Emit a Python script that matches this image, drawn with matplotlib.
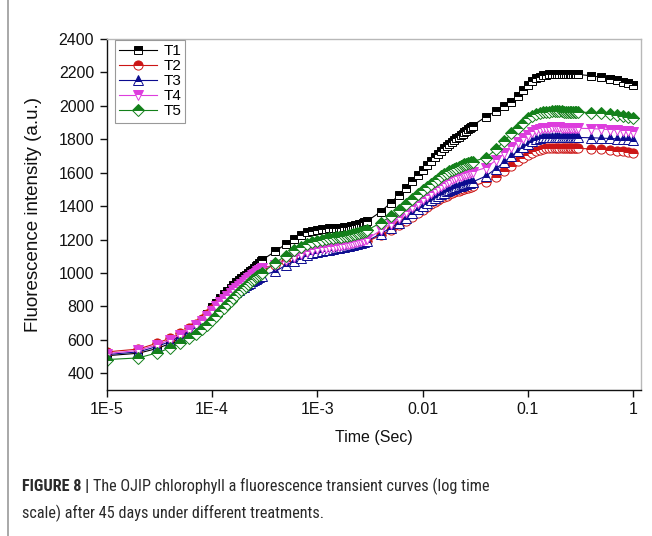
import numpy as np
import matplotlib
matplotlib.use("Agg")
import matplotlib.pyplot as plt
from matplotlib.lines import Line2D
from matplotlib import font_manager

plt.rcParams['font.family'] = ['Liberation Sans', 'DejaVu Sans']

# ---------------- data ----------------
# sampling times in microseconds
TIME_US = [10, 20, 30, 40, 50, 60, 70, 80, 90, 100, 110, 120, 130, 140, 150,
           160, 170, 180, 190, 200, 210, 220, 230, 240, 250, 260, 270, 280, 290, 300,
           400, 500, 600, 700, 800, 900, 1000, 1100, 1200, 1300, 1400, 1500, 1600,
           1700, 1800, 1900, 2000, 2100, 2200, 2300, 2400, 2500, 2600, 2700, 2800,
           2900, 3000,
           4000, 5000, 6000, 7000, 8000, 9000, 10000, 11000, 12000, 13000, 14000,
           15000, 16000, 17000, 18000, 19000, 20000, 21000, 22000, 23000, 24000,
           25000, 26000, 27000, 28000, 29000, 30000,
           40000, 50000, 60000, 70000, 80000, 90000, 100000, 110000, 120000,
           130000, 140000, 150000, 160000, 170000, 180000, 190000, 200000, 210000,
           220000, 230000, 240000, 250000, 260000, 270000, 280000, 290000, 300000,
           400000, 500000, 600000, 700000, 800000, 900000, 1000000]

T1 = [505, 520, 548, 578, 610, 645, 680, 715, 755, 795, 822, 848, 872, 893, 912,
      929, 945, 958, 970, 980, 990, 1000, 1010, 1020, 1030, 1040, 1050, 1059, 1069, 1078,
      1130, 1172, 1205, 1228, 1243, 1252, 1258, 1262, 1265, 1267, 1268, 1270, 1271,
      1272, 1274, 1276, 1278, 1280, 1283, 1286, 1289, 1292, 1296, 1300, 1304, 1308, 1312,
      1366, 1420, 1468, 1510, 1550, 1585, 1618, 1645, 1670, 1692, 1712, 1730, 1746,
      1760, 1773, 1785, 1796, 1806, 1816, 1825, 1834, 1843, 1851, 1859, 1867, 1875, 1882,
      1935, 1968, 1998, 2025, 2060, 2095, 2125, 2150, 2165, 2175, 2182, 2186, 2189,
      2191, 2192, 2193, 2193, 2193, 2192, 2192, 2191, 2191, 2190, 2190, 2189, 2189, 2188,
      2180, 2171, 2162, 2153, 2144, 2134, 2125]

T2 = [528, 545, 580, 610, 640, 670, 697, 723, 753, 783, 810, 832, 852, 870, 886,
      901, 915, 928, 940, 951, 961, 970, 979, 987, 995, 1003, 1010, 1017, 1024, 1030,
      1048, 1072, 1092, 1106, 1116, 1124, 1130, 1135, 1139, 1142, 1145, 1148, 1150,
      1152, 1155, 1157, 1160, 1162, 1165, 1168, 1171, 1174, 1177, 1180, 1183, 1186, 1189,
      1225, 1257, 1287, 1314, 1338, 1359, 1378, 1395, 1410, 1423, 1435, 1446, 1455,
      1463, 1470, 1477, 1483, 1488, 1493, 1497, 1501, 1505, 1508, 1511, 1514, 1517, 1520,
      1545, 1575, 1610, 1640, 1668, 1690, 1707, 1720, 1730, 1737, 1742, 1745, 1747,
      1748, 1749, 1749, 1749, 1749, 1748, 1748, 1748, 1747, 1747, 1746, 1746, 1745, 1745,
      1743, 1740, 1736, 1732, 1728, 1723, 1719]

T3 = [512, 528, 560, 590, 620, 648, 676, 703, 731, 760, 785, 806, 825, 842, 858,
      872, 885, 897, 908, 918, 927, 935, 943, 950, 957, 963, 969, 975, 980, 985,
      1010, 1045, 1072, 1092, 1106, 1117, 1125, 1131, 1136, 1140, 1144, 1147, 1150,
      1153, 1156, 1159, 1162, 1165, 1168, 1171, 1174, 1177, 1180, 1183, 1186, 1189, 1192,
      1235, 1270, 1302, 1332, 1358, 1380, 1400, 1418, 1434, 1448, 1460, 1471, 1480,
      1488, 1495, 1502, 1508, 1513, 1518, 1522, 1526, 1530, 1533, 1536, 1539, 1542, 1545,
      1580, 1625, 1665, 1700, 1730, 1755, 1774, 1789, 1799, 1806, 1811, 1814, 1815,
      1816, 1816, 1816, 1816, 1815, 1815, 1815, 1814, 1814, 1813, 1813, 1812, 1812, 1811,
      1809, 1807, 1805, 1803, 1801, 1799, 1797]

T4 = [518, 537, 570, 600, 630, 660, 688, 715, 745, 775, 802, 825, 845, 864, 880,
      896, 911, 924, 937, 948, 958, 968, 977, 986, 994, 1002, 1009, 1016, 1022, 1028,
      1045, 1075, 1098, 1114, 1126, 1135, 1142, 1147, 1151, 1155, 1158, 1161, 1164,
      1166, 1169, 1171, 1174, 1177, 1180, 1183, 1186, 1189, 1192, 1195, 1198, 1201, 1204,
      1255, 1295, 1330, 1365, 1395, 1420, 1442, 1462, 1480, 1496, 1510, 1522, 1533,
      1543, 1552, 1560, 1567, 1573, 1578, 1583, 1587, 1591, 1594, 1597, 1600, 1603, 1606,
      1630, 1675, 1715, 1752, 1782, 1808, 1828, 1843, 1854, 1861, 1866, 1869, 1870,
      1871, 1871, 1871, 1871, 1870, 1870, 1870, 1869, 1869, 1868, 1868, 1867, 1867, 1866,
      1864, 1861, 1858, 1855, 1852, 1849, 1845]

T5 = [482, 492, 522, 551, 581, 610, 636, 662, 690, 718, 745, 770, 793, 814, 833,
      851, 868, 884, 899, 913, 925, 936, 947, 957, 966, 975, 983, 990, 996, 1000,
      1062, 1102, 1135, 1157, 1172, 1183, 1192, 1198, 1203, 1207, 1210, 1213, 1216,
      1218, 1221, 1224, 1227, 1230, 1233, 1236, 1239, 1242, 1245, 1248, 1251, 1254, 1257,
      1300, 1340, 1375, 1410, 1445, 1472, 1495, 1515, 1533, 1550, 1565, 1578, 1590,
      1600, 1609, 1617, 1624, 1630, 1636, 1641, 1646, 1650, 1654, 1658, 1661, 1664, 1667,
      1690, 1740, 1790, 1835, 1870, 1900, 1925, 1942, 1952, 1958, 1962, 1965, 1966,
      1967, 1967, 1967, 1967, 1967, 1966, 1966, 1966, 1965, 1965, 1964, 1964, 1963, 1963,
      1960, 1955, 1950, 1945, 1940, 1935, 1930]

SERIES_NAMES = ["T1", "T2", "T3", "T4", "T5"]
SERIES_VALUES = [T1, T2, T3, T4, T5]
COLORS = ["#000000", "#cc1515", "#0b0b8f", "#dd3ddd", "#13801a"]
MARKERS = ["s", "o", "^", "v", "D"]

Y_TICKS = [400, 600, 800, 1000, 1200, 1400, 1600, 1800, 2000, 2200, 2400]
X_TICKS = [1e-5, 1e-4, 1e-3, 1e-2, 1e-1, 1]
X_TICK_LABELS = ["1E-5", "1E-4", "1E-3", "0.01", "0.1", "1"]

# ---------------- figure ----------------
W, H = 652, 536
fig = plt.figure(figsize=(W / 100, H / 100), dpi=100)
ax = fig.add_axes([106.7 / W, 1 - 390 / H, (641 - 106.7) / W, (390 - 39) / H])

t = np.array(TIME_US) * 1e-6
for name, vals, col, mk in zip(SERIES_NAMES, SERIES_VALUES, COLORS, MARKERS):
    ms = {"s": 6.4, "o": 6.6, "^": 7.0, "v": 7.0, "D": 5.8}[mk]
    ax.plot(t, vals, color=col, lw=0.8, marker=mk, markersize=ms,
            markerfacecolor=col, markerfacecoloralt="white", fillstyle="top",
            markeredgecolor=col, markeredgewidth=0.7, label=name)

ax.set_xscale("log")
ax.set_xlim(1e-5, 1.19)
ax.set_ylim(300, 2400)
ax.set_xticks(X_TICKS)
ax.set_xticklabels(X_TICK_LABELS)
ax.xaxis.set_minor_locator(matplotlib.ticker.NullLocator())
ax.set_yticks(Y_TICKS)
ax.tick_params(axis="both", which="major", direction="out", length=5, width=1,
               labelsize=11.5, pad=4, colors="#111111")
for s in ("left", "bottom"):
    ax.spines[s].set_color("#111111")
    ax.spines[s].set_linewidth(1.0)
for s in ("top", "right"):
    ax.spines[s].set_color("#b8b8b8")
    ax.spines[s].set_linewidth(1.0)

ax.set_xlabel("Time (Sec)", fontsize=11.5, labelpad=9, color="#111111")
ax.set_ylabel("Fluorescence intensity (a.u.)", fontsize=13.5, labelpad=12, color="#111111")

leg = ax.legend(loc="upper left", bbox_to_anchor=(8 / (641 - 106.7), 0.998),
                fontsize=11, frameon=True, fancybox=False, framealpha=1,
                edgecolor="#999999", borderpad=0.28, labelspacing=0.07,
                handlelength=2.5, handletextpad=0.4, borderaxespad=0, numpoints=1)
leg.get_frame().set_linewidth(0.8)

# left border of the figure panel
fig.add_artist(Line2D([7.5 / W, 7.5 / W], [0, 1], color="#9a9a9a", lw=1.2))

# caption
def _has(fam):
    try:
        font_manager.findfont(font_manager.FontProperties(family=fam),
                              fallback_to_default=False)
        return True
    except Exception:
        return False

cap_fam, cap_size = ['Liberation Sans', 'DejaVu Sans'], 10.8
for fam, size in (('Roboto Condensed', 11.7), ('Liberation Sans Narrow', 11.7),
                  ('Open Sans Condensed', 11.2)):
    if _has(fam):
        cap_fam, cap_size = [fam, 'DejaVu Sans'], size
        break

y1 = 1 - 491 / H
y2 = 1 - 518 / H
tb = fig.text(22 / W, y1, "FIGURE 8 |", fontsize=cap_size, fontweight="bold",
              family=cap_fam, color="#2a2a2a", va="baseline")
fig.canvas.draw()
bb = tb.get_window_extent()
fig.text((bb.x1 + 4) / W, y1,
         "The OJIP chlorophyll a fluorescence transient curves (log time",
         fontsize=cap_size, family=cap_fam, color="#2a2a2a", va="baseline")
fig.text(22 / W, y2, "scale) after 45 days under different treatments.",
         fontsize=cap_size, family=cap_fam, color="#2a2a2a", va="baseline")

fig.savefig("out.png", dpi=100)
